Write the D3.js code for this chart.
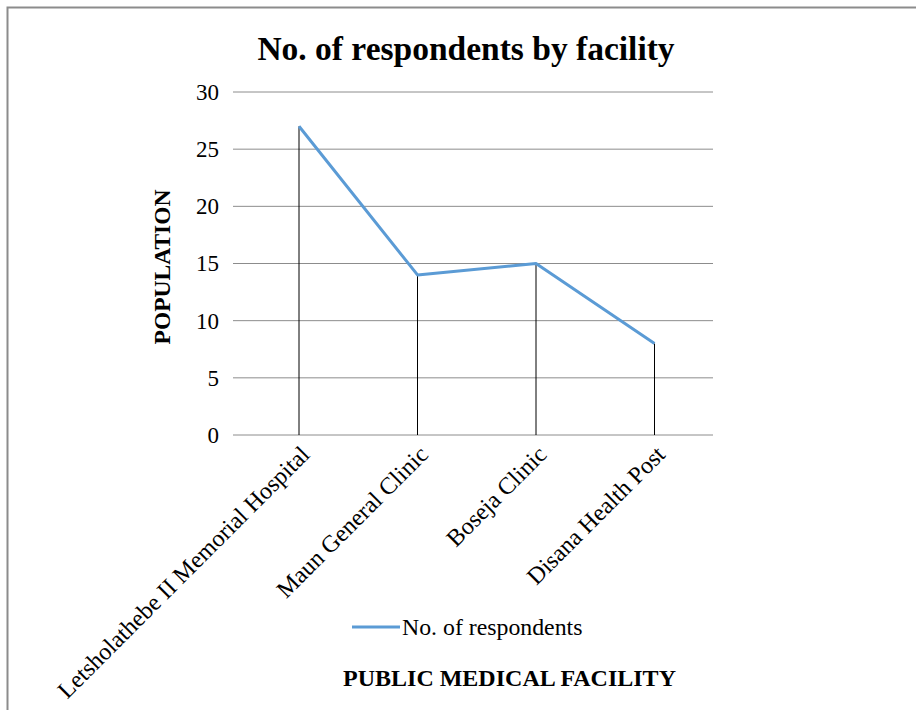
<!DOCTYPE html>
<html>
<head>
<meta charset="utf-8">
<script src="https://cdn.jsdelivr.net/npm/d3@7"></script>
<style>
  body { margin: 0; background: #fff; }
  text { font-family: "Liberation Serif", "Times New Roman", serif; }
</style>
</head>
<body>
<script>
var categories = ["Letsholathebe II Memorial Hospital", "Maun General Clinic", "Boseja Clinic", "Disana Health Post"];
var respondents = [27, 14, 15, 8];
var yTicks = [0, 5, 10, 15, 20, 25, 30];

var width = 916, height = 710;
var svg = d3.select("body").append("svg")
  .attr("width", width)
  .attr("height", height);

// chart frame (runs off the right/bottom edges)
svg.append("rect")
  .attr("x", 7.5).attr("y", 7.5)
  .attr("width", 1000).attr("height", 1000)
  .attr("fill", "none")
  .attr("stroke", "#8c8c8c")
  .attr("stroke-width", 2);

var x = d3.scalePoint()
  .domain(categories)
  .range([299, 654.5]);

var y = d3.scaleLinear()
  .domain([0, 30])
  .range([435, 92]);

// gridlines
svg.append("g").selectAll("line")
  .data(yTicks)
  .enter()
  .append("line")
  .attr("x1", 233).attr("x2", 713)
  .attr("y1", function(d){ return y(d); })
  .attr("y2", function(d){ return y(d); })
  .attr("stroke", "#8c8c8c")
  .attr("stroke-width", 1);

// y axis labels
var yAxis = d3.axisLeft(y).tickValues(yTicks).tickSize(0).tickPadding(0);
var gy = svg.append("g").attr("transform", "translate(219,0)").call(yAxis);
gy.select(".domain").remove();
gy.selectAll("text")
  .attr("font-size", 23)
  .attr("font-family", "Liberation Serif")
  .attr("fill", "#000");

// drop lines
svg.append("g").selectAll("line")
  .data(respondents)
  .enter()
  .append("line")
  .attr("x1", function(d, i){ return x(categories[i]); })
  .attr("x2", function(d, i){ return x(categories[i]); })
  .attr("y1", function(d){ return y(d); })
  .attr("y2", y(0))
  .attr("stroke", "#000")
  .attr("stroke-width", 1);

// series line
var line = d3.line()
  .x(function(d, i){ return x(categories[i]); })
  .y(function(d){ return y(d); });

svg.append("path")
  .datum(respondents)
  .attr("d", line)
  .attr("fill", "none")
  .attr("stroke", "#5b9bd5")
  .attr("stroke-width", 3)
  .attr("stroke-linejoin", "round");

// x category labels, rotated
svg.append("g").selectAll("text")
  .data(categories)
  .enter()
  .append("text")
  .attr("transform", function(d){ return "translate(" + (x(d) + 12) + ",456) rotate(-45)"; })
  .attr("text-anchor", "end")
  .attr("font-size", 24)
  .attr("fill", "#000")
  .text(function(d){ return d; });

// title
svg.append("text")
  .attr("x", 466).attr("y", 60)
  .attr("text-anchor", "middle")
  .attr("font-size", 33.5)
  .attr("font-weight", "bold")
  .text("No. of respondents by facility");

// y axis title
svg.append("text")
  .attr("transform", "translate(170,267) rotate(-90)")
  .attr("text-anchor", "middle")
  .attr("font-size", 23.5)
  .attr("font-weight", "bold")
  .text("POPULATION");

// legend
svg.append("line")
  .attr("x1", 352).attr("x2", 400)
  .attr("y1", 627).attr("y2", 627)
  .attr("stroke", "#5b9bd5")
  .attr("stroke-width", 3);
svg.append("text")
  .attr("x", 402).attr("y", 635)
  .attr("font-size", 23.8)
  .text("No. of respondents");

// x axis title
svg.append("text")
  .attr("x", 509.5).attr("y", 686)
  .attr("text-anchor", "middle")
  .attr("font-size", 24)
  .attr("font-weight", "bold")
  .text("PUBLIC MEDICAL FACILITY");
</script>
</body>
</html>
